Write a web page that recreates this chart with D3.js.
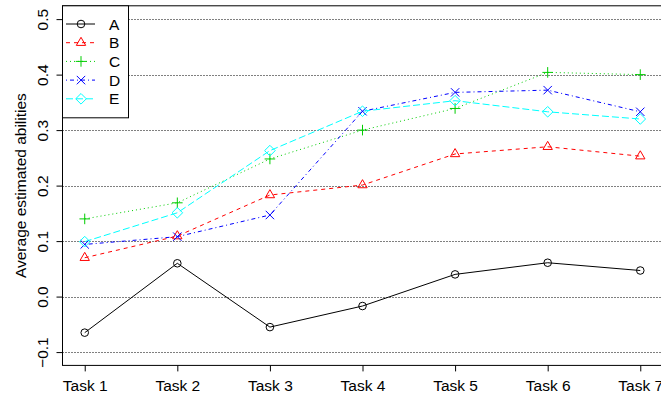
<!DOCTYPE html>
<html>
<head>
<meta charset="utf-8">
<script src="https://cdn.jsdelivr.net/npm/d3@7/dist/d3.min.js"></script>
<style>
  html, body { margin: 0; padding: 0; background: #fff; }
  svg { display: block; font-family: "Liberation Sans", Arial, Helvetica, sans-serif; }
</style>
</head>
<body>
<svg id="chart" width="661" height="399"></svg>
<script>
// Task labels along the x axis
const tasks = ["Task 1", "Task 2", "Task 3", "Task 4", "Task 5", "Task 6", "Task 7"];

// Average estimated abilities per group
const seriesA = [-0.065, 0.060, -0.055, -0.017, 0.040, 0.061, 0.047];
const seriesB = [0.070, 0.109, 0.183, 0.201, 0.257, 0.270, 0.253];
const seriesC = [0.140, 0.169, 0.248, 0.300, 0.339, 0.404, 0.400];
const seriesD = [0.094, 0.108, 0.147, 0.334, 0.368, 0.372, 0.333];
const seriesE = [0.099, 0.151, 0.263, 0.334, 0.353, 0.333, 0.320];

const seriesNames = ["A", "B", "C", "D", "E"];
const yTicks = [-0.1, 0.0, 0.1, 0.2, 0.3, 0.4, 0.5];

const series = [
  { name: "A", values: seriesA, color: "#000000", dash: null,      shape: "circle" },
  { name: "B", values: seriesB, color: "#FF0000", dash: "4,4",     shape: "triangle" },
  { name: "C", values: seriesC, color: "#00CD00", dash: "1,3",     shape: "plus" },
  { name: "D", values: seriesD, color: "#0000FF", dash: "1,3,4,3", shape: "cross" },
  { name: "E", values: seriesE, color: "#00FFFF", dash: "7,3",     shape: "diamond" }
];

const svg = d3.select("#chart");

// Plot region (right edge sits just past the canvas)
const plot = { left: 62.5, right: 662.5, top: 5.8, bottom: 365.4 };

const x = d3.scalePoint()
  .domain(tasks)
  .range([plot.left, plot.right])
  .padding(0.24);

const y = d3.scaleLinear()
  .domain([-0.124, 0.524])
  .range([plot.bottom, plot.top]);

// Horizontal dotted reference lines
svg.append("g")
  .selectAll("line")
  .data(yTicks)
  .join("line")
  .attr("x1", plot.left)
  .attr("x2", plot.right)
  .attr("y1", d => Math.round(y(d)) + 0.5)
  .attr("y2", d => Math.round(y(d)) + 0.5)
  .attr("stroke", "#000")
  .attr("stroke-width", 1)
  .attr("stroke-dasharray", "1,2");

// Series lines
const line = d3.line()
  .x((d, i) => x(tasks[i]))
  .y(d => y(d));

svg.append("g")
  .selectAll("path")
  .data(series)
  .join("path")
  .attr("d", s => line(s.values))
  .attr("fill", "none")
  .attr("stroke", s => s.color)
  .attr("stroke-width", 1)
  .attr("stroke-dasharray", s => s.dash);

// Point symbols
function drawSymbol(g, shape, cx, cy, color) {
  const r = 3.8;
  const common = el => el.attr("fill", "none").attr("stroke", color).attr("stroke-width", 1);
  if (shape === "circle") {
    common(g.append("circle").attr("cx", cx).attr("cy", cy).attr("r", r));
  } else if (shape === "triangle") {
    const t = 5.4;
    const pts = [[cx, cy - t], [cx + t * 0.866, cy + t * 0.5], [cx - t * 0.866, cy + t * 0.5]];
    common(g.append("polygon").attr("points", pts.map(p => p.join(",")).join(" ")));
  } else if (shape === "plus") {
    const h = 5.3;
    common(g.append("path").attr("d", `M${cx - h},${cy}H${cx + h}M${cx},${cy - h}V${cy + h}`));
  } else if (shape === "cross") {
    const h = 4.2;
    common(g.append("path").attr("d", `M${cx - h},${cy - h}L${cx + h},${cy + h}M${cx - h},${cy + h}L${cx + h},${cy - h}`));
  } else if (shape === "diamond") {
    const h = 5.3;
    common(g.append("polygon").attr("points", `${cx},${cy - h} ${cx + h},${cy} ${cx},${cy + h} ${cx - h},${cy}`));
  }
}

const pointLayer = svg.append("g");
series.forEach(s => {
  s.values.forEach((v, i) => drawSymbol(pointLayer, s.shape, x(tasks[i]), y(v), s.color));
});

// Plot box
svg.append("rect")
  .attr("x", plot.left)
  .attr("y", plot.top)
  .attr("width", plot.right - plot.left)
  .attr("height", plot.bottom - plot.top)
  .attr("fill", "none")
  .attr("stroke", "#000")
  .attr("stroke-width", 1);

// Bottom axis
const xAxis = svg.append("g")
  .attr("transform", `translate(0,${plot.bottom})`)
  .call(d3.axisBottom(x).tickSize(6).tickPadding(9).tickSizeOuter(0));
xAxis.select(".domain").remove();
xAxis.selectAll("text")
  .attr("font-size", 15.5)
  .attr("fill", "#000")
  .attr("font-family", "Liberation Sans, Arial, sans-serif")
  .attr("dy", "0.71em");

// Left axis with rotated labels
const yAxis = svg.append("g")
  .attr("transform", `translate(${plot.left},0)`)
  .call(d3.axisLeft(y).tickValues(yTicks).tickFormat(d3.format(".1f")).tickSize(6).tickSizeOuter(0));
yAxis.select(".domain").remove();
yAxis.selectAll(".tick text")
  .attr("font-size", 15.5)
  .attr("fill", "#000")
  .attr("font-family", "Liberation Sans, Arial, sans-serif")
  .attr("x", null)
  .attr("dy", null)
  .attr("text-anchor", "middle")
  .attr("transform", "translate(-15,0) rotate(-90)");

// Y axis title
svg.append("text")
  .attr("transform", `translate(26,${(plot.top + plot.bottom) / 2}) rotate(-90)`)
  .attr("text-anchor", "middle")
  .attr("font-size", 15.5)
  .attr("fill", "#000")
  .text("Average estimated abilities");

// Legend
const legend = svg.append("g");
legend.append("rect")
  .attr("x", plot.left)
  .attr("y", plot.top)
  .attr("width", 66)
  .attr("height", 112)
  .attr("fill", "#fff")
  .attr("stroke", "#000")
  .attr("stroke-width", 1);

series.forEach((s, i) => {
  const ly = 24 + i * 18.7;
  legend.append("line")
    .attr("x1", 66).attr("x2", 95)
    .attr("y1", ly).attr("y2", ly)
    .attr("stroke", s.color)
    .attr("stroke-width", 1)
    .attr("stroke-dasharray", s.dash);
  drawSymbol(legend, s.shape, 81, ly, s.color);
  legend.append("text")
    .attr("x", 109)
    .attr("y", ly)
    .attr("dy", "0.36em")
    .attr("font-size", 15.5)
    .attr("fill", "#000")
    .text(seriesNames[i]);
});
</script>
</body>
</html>
